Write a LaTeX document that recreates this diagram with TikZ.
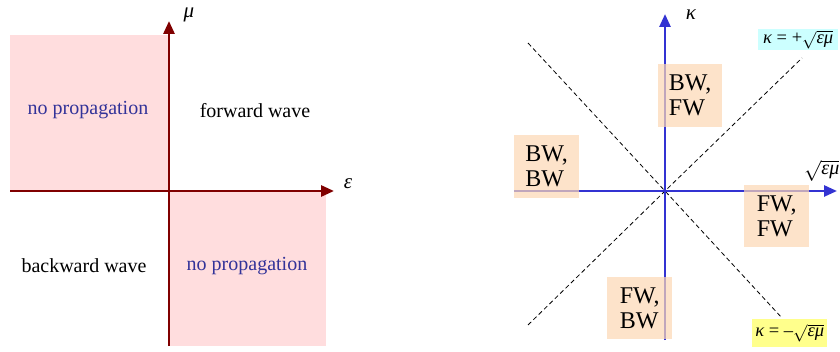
\documentclass[tikz,border=0pt]{standalone}
\usepackage{fontspec}
\setmainfont{Liberation Serif}
\usetikzlibrary{arrows.meta}
\definecolor{pinkq}{RGB}{255,221,222}
\definecolor{peach}{RGB}{252,215,180}
\definecolor{axred}{RGB}{128,0,0}
\definecolor{axblue}{RGB}{51,51,210}
\definecolor{txtblue}{RGB}{51,51,153}
\definecolor{cyanbox}{RGB}{204,255,255}
\definecolor{yelbox}{RGB}{255,255,140}
\newcommand\gk{{\itshape κ}}
\newcommand\gsq{$\sqrt{\hbox{\itshape εμ}}$}
\tikzset{
  quad/.style={fill=pinkq, draw=none, inner sep=0pt, anchor=north west},
  lbl/.style={font=\fontsize{20}{24}\selectfont},
  redaxis/.style={draw=axred, line width=2.8pt, -{Triangle[length=13pt,width=11pt]}},
  blueaxis/.style={draw=axblue, line width=2.6pt, -{Triangle[length=13pt,width=11pt]}},
  peachbox/.style={fill=peach, fill opacity=0.7, text opacity=1, draw=none, inner sep=0pt,
     anchor=north west, align=left, font=\fontsize{24}{25}\selectfont},
  diag/.style={draw=black, line width=0.8pt, dash pattern=on 4.5pt off 3pt},
  greek/.style={inner sep=0pt, font=\fontsize{21}{23}\selectfont\itshape},
  mathlbl/.style={font=\fontsize{18.5}{20}\selectfont, inner sep=0.5pt}
}
\begin{document}
\begin{tikzpicture}[x=1pt,y=-1pt]
\useasboundingbox (0,0) rectangle (840,352);
% ---------- left panel ----------
\node[quad, minimum width=158pt, minimum height=156pt] (q2) at (10,35) {};
\node[quad, minimum width=157pt, minimum height=155pt] (q4) at (169,191) {};
\coordinate (lxa) at (10,191);
\coordinate (lxb) at (334,191);
\coordinate (lya) at (169,346);
\coordinate (lyb) at (169,21);
\draw[redaxis] (lxa) -- (lxb);
\draw[redaxis] (lya) -- (lyb);
\node[greek] (mu) at (189,15) {μ};
\node[greek] (eps) at (348,184) {ε};
\node[lbl, text=txtblue] (np1) at (88,110) {no propagation};
\node[lbl] (fw) at (255,111) {forward wave};
\node[lbl] (bw) at (84,266) {backward wave};
\node[lbl, text=txtblue] (np2) at (247,266) {no propagation};
% ---------- right panel ----------
\coordinate (c) at (665,191);
\coordinate (d1a) at (528,43);
\coordinate (d1b) at (782,318);
\coordinate (d2a) at (528,325);
\coordinate (d2b) at (802,58);
\draw[diag] (d1a) -- (c) -- (d1b);
\draw[diag] (d2a) -- (c) -- (d2b);
\coordinate (rxa) at (514,191);
\coordinate (rxb) at (837,191);
\coordinate (rya) at (665,340);
\coordinate (ryb) at (665,14);
\draw[blueaxis] (rxa) -- (rxb);
\draw[blueaxis] (rya) -- (ryb);
\node[greek] (kap) at (691,15) {κ};
\node[anchor=west, inner sep=0pt] (sq) at (804,171) {\fontsize{20}{22}\selectfont\gsq};
\node[peachbox, minimum width=64pt, minimum height=63pt] (b1) at (658,64) {BW,\\FW};
\node[peachbox, minimum width=65pt, minimum height=63pt] (b2) at (514,135) {BW,\\BW};
\node[peachbox, minimum width=65pt, minimum height=62pt] (b3) at (744,185) {FW,\\FW};
\node[peachbox, minimum width=65pt, minimum height=62pt] (b4) at (607,277) {FW,\\BW};
\node[mathlbl, fill=cyanbox, anchor=north west, minimum width=80pt, minimum height=21pt] (kp) at (758,29) {\gk{} = +\gsq};
\node[mathlbl, fill=yelbox, anchor=north west, minimum width=75pt, minimum height=28pt] (km) at (752,319) {\gk{} = –\gsq};
\end{tikzpicture}
\end{document}
